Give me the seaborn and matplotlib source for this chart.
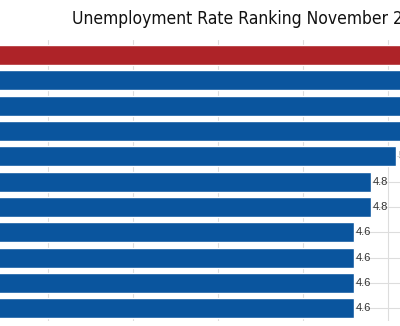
import matplotlib
matplotlib.use("Agg")
import matplotlib.pyplot as plt
import seaborn as sns
import pandas as pd
from matplotlib import font_manager
from matplotlib.font_manager import FontProperties

# ---- data (top bars and labels are cropped in the reference; values estimated) ----
categories = ["Item 1", "Item 2", "Item 3", "Item 4", "Item 5", "Item 6",
              "Item 7", "Item 8", "Item 9", "Item 10", "Item 11"]
rates = [5.8, 5.5, 5.4, 5.2, 5.1, 4.8, 4.8, 4.6, 4.6, 4.6, 4.6]
highlight = ["red", "blue", "blue", "blue", "blue", "blue",
             "blue", "blue", "blue", "blue", "blue"]
title_text = "Unemployment Rate Ranking November 2015"

df = pd.DataFrame({"category": categories, "rate": rates, "group": highlight})

sns.set_theme(style="white")
plt.rcParams["font.family"] = ["Liberation Sans", "DejaVu Sans"]

# pick a condensed face for the narrow title if one exists
title_kw = dict(family=["Roboto", "DejaVu Sans"], fontsize=12.5)
names = {f.name for f in font_manager.fontManager.ttflist}
if "Liberation Sans Narrow" in names:
    title_kw = dict(family=["Liberation Sans Narrow", "DejaVu Sans"], fontsize=14.5)
else:
    try:
        p = font_manager.findfont(FontProperties(family="DejaVu Sans", stretch="condensed"),
                                  fallback_to_default=False)
        if "Condensed" in p:
            title_kw = dict(family=["DejaVu Sans"], stretch="condensed", fontsize=12.5)
    except Exception:
        pass

W, H = 400, 326
fig = plt.figure(figsize=(W / 100, H / 100), dpi=100)
fig.patch.set_facecolor("white")

# axes placed so that the chart is cropped like the reference
ax = fig.add_axes([-37 / W, 1 - 321 / H, 510 / W, (321 - 39.8) / H])

sns.barplot(data=df, y="category", x="rate", hue="group",
            palette={"red": "#AE2328", "blue": "#0A559E"},
            orient="h", width=0.8, dodge=False, legend=False,
            saturation=1, ax=ax, zorder=2)

ax.set_xlim(0, 6)
ax.set_ylim(len(categories) - 0.5, -0.6)
ax.set_xticks([1, 2, 3, 4, 5])
ax.set_yticks(range(len(categories)))
ax.grid(True, axis="both", color="#DDDDDD", linewidth=0.8, zorder=0)
ax.set_axisbelow(True)
ax.tick_params(length=0, labelleft=False, labelbottom=False)
for s in ax.spines.values():
    s.set_visible(False)
ax.set_xlabel("")
ax.set_ylabel("")

for i, v in enumerate(rates):
    ax.text(v + 0.025, i, f"{v:g}", va="center", ha="left",
            fontsize=8, color="#333333", zorder=3)

fig.text(72 / W, 1 - 19.5 / H, title_text, ha="left", va="center",
         color="#111111", **title_kw)

fig.savefig("out.png", dpi=100, facecolor="white")
